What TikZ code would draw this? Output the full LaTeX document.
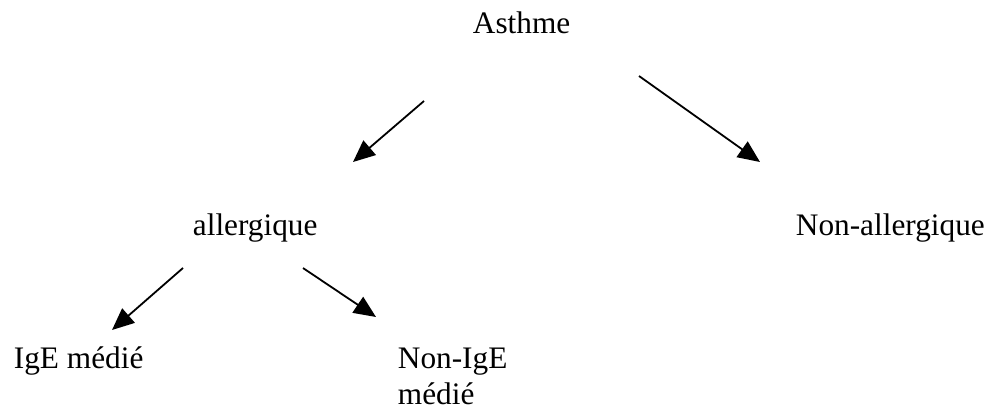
\documentclass[tikz,border=0pt]{standalone}
\usepackage{fontspec}
\setmainfont{Liberation Serif}
\usetikzlibrary{arrows.meta}

\begin{document}
\begin{tikzpicture}[x=1pt,y=-1pt,>={Triangle[length=22pt,width=19pt]},
        line width=1.8pt,
        word node/.style={anchor=base west,inner sep=0pt,font=\fontsize{31.3}{36}\selectfont}]
        \useasboundingbox (0,0) rectangle (990,409);
        \node[word node] (asthme) at (472,34) {Asthme};
        \node[word node] (allerg) at (192,235) {allergique};
        \node[word node] (nonallerg) at (795,235) {Non-allergique};
        \node[word node] (ige) at (13,368) {IgE médié};
        \node[word node, align=left] (nonige) at (397,404) {Non-IgE\\médié};
        % free ends of the arrows
        \coordinate (a1) at (424,101);
        \coordinate (b1) at (353,162);
        \coordinate (a2) at (639,76);
        \coordinate (b2) at (760,162);
        \coordinate (a3) at (183,268);
        \coordinate (b3) at (112,330);
        \coordinate (a4) at (303,268);
        \coordinate (b4) at (376,317);
        \path[->]
        (a1) edge (b1)
        (a2) edge (b2)
        (a3) edge (b3)
        (a4) edge (b4)
        ;
\end{tikzpicture}
\end{document}
